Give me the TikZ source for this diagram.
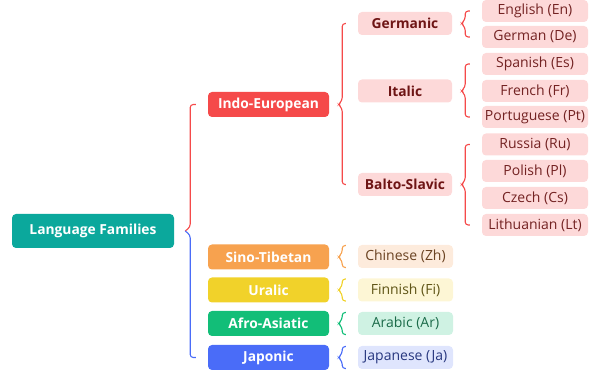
\documentclass[tikz,border=0pt]{standalone}
\usepackage{fontspec}
\setmainfont{Open Sans}
\usetikzlibrary{calc}
\definecolor{cRoot}{HTML}{0BA89C}
\definecolor{cRed}{HTML}{F54A4A}
\definecolor{cOrange}{HTML}{F7A24F}
\definecolor{cYellow}{HTML}{F1D22A}
\definecolor{cGreen}{HTML}{12BE78}
\definecolor{cBlue}{HTML}{4A6CF8}
\definecolor{cPinkFill}{HTML}{FDD9D9}
\definecolor{cPinkText}{HTML}{6E1515}
\definecolor{cLeafText}{HTML}{732222}
\definecolor{cZhFill}{HTML}{FDEBDC}
\definecolor{cZhText}{HTML}{6B4322}
\definecolor{cFiFill}{HTML}{FDF6D5}
\definecolor{cFiText}{HTML}{5F5517}
\definecolor{cArFill}{HTML}{CFF2E3}
\definecolor{cArText}{HTML}{1B6B49}
\definecolor{cJaFill}{HTML}{DFE5FD}
\definecolor{cJaText}{HTML}{27377F}
\newcommand\famBrace[5]{%
  \draw[#4, bracestyle] let \p1=(#1.east), \p2=(#2.west), \p3=(#3.west) in
  (\x2-12pt,\y2+#5) -- (\x1+13pt,\y2+#5) -- (\x1+13pt,\y1+4pt) -- (\x1+9pt,\y1)
  -- (\x1+13pt,\y1-4pt) -- (\x1+13pt,\y3-#5) -- (\x2-12pt,\y3-#5);}
\begin{document}
\begin{tikzpicture}[x=1pt,y=-1pt,
  box/.style={rectangle, rounded corners=4pt, inner sep=0pt, align=center},
  boldfont/.style={font=\bfseries\fontsize{13.8}{16}\selectfont},
  regfont/.style={font=\fontsize{14}{16}\selectfont},
  rootbox/.style={box, fill=cRoot, text=white, minimum width=162pt, minimum height=34pt, boldfont},
  famA/.style={box, fill=#1, text=white, minimum width=121pt, minimum height=25pt, boldfont},
  subbox/.style={box, fill=cPinkFill, text=cPinkText, minimum width=94pt, minimum height=23pt, boldfont},
  leafbox/.style={box, fill=cPinkFill, text=cLeafText, minimum width=106pt, minimum height=22pt, regfont},
  langbox/.style={box, minimum width=95pt, minimum height=23pt, regfont},
  bracestyle/.style={line width=1.1pt, rounded corners=3pt}]
\useasboundingbox (0,0) rectangle (592,379);

\node[rootbox] (root) at (93,231) {Language Families};

\node[famA=cRed] (ie) at (268.5,104.5) {Indo-European};
\node[famA=cOrange] (st) at (268.5,257) {Sino-Tibetan};
\node[famA=cYellow] (ur) at (268.5,290) {Uralic};
\node[famA=cGreen] (aa) at (268.5,323.5) {Afro-Asiatic};
\node[famA=cBlue] (jp) at (268.5,357.5) {Japonic};

\node[subbox] (ge) at (405,23.5) {Germanic};
\node[subbox] (it) at (405,91) {Italic};
\node[subbox] (bs) at (405,184.5) {Balto-Slavic};

\node[leafbox] (en) at (535,11) {English (En)};
\node[leafbox] (de) at (535,37) {German (De)};
\node[leafbox] (es) at (535,64) {Spanish (Es)};
\node[leafbox] (fr) at (535,91) {French (Fr)};
\node[leafbox] (pt) at (535,117) {Portuguese (Pt)};
\node[leafbox] (ru) at (535,144.5) {Russia (Ru)};
\node[leafbox] (pl) at (535,171) {Polish (Pl)};
\node[leafbox] (cs) at (535,198) {Czech (Cs)};
\node[leafbox] (lt) at (535,225) {Lithuanian (Lt)};

\node[langbox, fill=cZhFill, text=cZhText] (zh) at (405.5,256.5) {Chinese (Zh)};
\node[langbox, fill=cFiFill, text=cFiText] (fi) at (405.5,290) {Finnish (Fi)};
\node[langbox, fill=cArFill, text=cArText] (ar) at (405.5,323.5) {Arabic (Ar)};
\node[langbox, fill=cJaFill, text=cJaText] (ja) at (405.5,357.5) {Japanese (Ja)};

% root brace: upper half red, lower half blue
\draw[cRed, bracestyle] let \p1=(root.east), \p2=(ie.west) in
  (\x2-12pt,\y2) -- (\x1+16pt,\y2) -- (\x1+16pt,\y1+4pt) -- (\x1+11pt,\y1);
\draw[cBlue, bracestyle] let \p1=(root.east), \p3=(jp.west) in
  (\x1+11pt,\y1) -- (\x1+16pt,\y1-4pt) -- (\x1+16pt,\y3) -- (\x3-12pt,\y3);

\famBrace{ie}{ge}{bs}{cRed}{0pt}
\famBrace{ge}{en}{de}{cRed}{0pt}
\famBrace{it}{es}{pt}{cRed}{0pt}
\famBrace{bs}{ru}{lt}{cRed}{0pt}
\famBrace{st}{zh}{zh}{cOrange}{11pt}
\famBrace{ur}{fi}{fi}{cYellow}{11pt}
\famBrace{aa}{ar}{ar}{cGreen}{11pt}
\famBrace{jp}{ja}{ja}{cBlue}{11pt}
\end{tikzpicture}
\end{document}
